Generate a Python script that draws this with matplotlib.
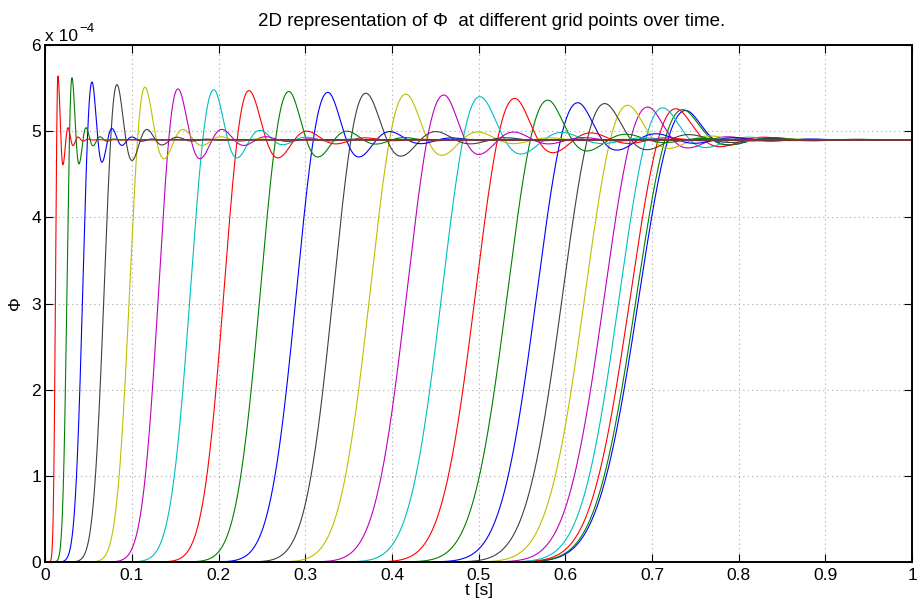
import numpy as np
import matplotlib
matplotlib.use("Agg")
import matplotlib.pyplot as plt

# ---- data (times in s, values in units of 1e-4) ----
peak_t = [0.0146, 0.0308, 0.0539, 0.0827, 0.1150, 0.1531, 0.1946, 0.2350,
          0.2811, 0.3261, 0.3700, 0.4161, 0.4600, 0.5015, 0.5418, 0.5799,
          0.6145, 0.6456, 0.6721, 0.6952, 0.7125, 0.7275, 0.7356, 0.7390]
half_t = [0.0112, 0.0239, 0.0412, 0.0651, 0.0939, 0.1265, 0.1623, 0.2007,
          0.2419, 0.2830, 0.3253, 0.3670, 0.4091, 0.4495, 0.4879, 0.5245,
          0.5582, 0.5879, 0.6136, 0.6360, 0.6533, 0.6655, 0.6724, 0.6752]
trough_t = [0.0204, 0.0389, 0.0654, 0.1000, 0.1369, 0.1784, 0.2211, 0.2684,
            0.3145, 0.3618, 0.4102, 0.4575, 0.5002, 0.5487, 0.5856, 0.6248,
            0.6594, 0.6940, 0.7193, 0.7413, 0.7620, 0.7782, 0.7874, 0.7886]
peak_v = [5.64, 5.62, 5.57, 5.54, 5.51, 5.49, 5.48, 5.47, 5.46, 5.45, 5.44,
          5.43, 5.42, 5.40, 5.38, 5.36, 5.33, 5.32, 5.30, 5.28, 5.27, 5.26,
          5.25, 5.24]
trough_v = [4.61, 4.62, 4.64, 4.66, 4.68, 4.68, 4.69, 4.69, 4.70, 4.70, 4.71,
            4.72, 4.73, 4.735, 4.75, 4.77, 4.78, 4.785, 4.80, 4.805, 4.81,
            4.82, 4.84, 4.84]
second_peak_v = [5.04, 5.04, 5.03, 5.02, 5.02, 5.02, 5.01, 5.00, 5.00, 4.995,
                 4.995, 4.99, 4.99, 4.985, 4.98, 4.965, 4.97, 4.96, 4.945,
                 4.935, 4.93, 4.93, 4.925, 4.92]
steady_v = 4.90
half_level = 2.45
scale = 1e-4

x_ticks = [0, 0.1, 0.2, 0.3, 0.4, 0.5, 0.6, 0.7, 0.8, 0.9, 1]
x_ticklabels = ["0", "0.1", "0.2", "0.3", "0.4", "0.5", "0.6", "0.7", "0.8", "0.9", "1"]
y_ticks = [0, 1, 2, 3, 4, 5, 6]
y_ticklabels = ["0", "1", "2", "3", "4", "5", "6"]

# MATLAB classic colour order (curves plotted from last to first)
color_order = [(0, 0, 1), (0, 0.5, 0), (1, 0, 0), (0, 0.75, 0.75),
               (0.75, 0, 0.75), (0.75, 0.75, 0), (0.25, 0.25, 0.25)]

rise_exp = 2.15

t = np.linspace(0, 1, 6001)


def curve(tp, th, tt, P, T, P2, S):
    y = np.empty_like(t)
    sig = (tp - th) / np.log(P / half_level) ** (1.0 / rise_exp)
    before = t < tp
    y[before] = P * np.exp(-(np.abs(t[before] - tp) / sig) ** rise_exp)
    tau = t[~before] - tp
    half = tt - tp
    w = np.pi / half
    a1 = -np.log((S - T) / (P - S)) / half
    a2 = -np.log((P2 - S) / (S - T)) / half
    a = np.where(tau < half, a1, a2)
    logE = np.where(tau < half, -a1 * tau, -a1 * half - a2 * (tau - half))
    y[~before] = S + (P - S) * np.exp(logE) * (np.cos(w * tau) + (a / w) * np.sin(w * tau))
    return y * scale


plt.rcParams['font.family'] = ['Liberation Sans', 'DejaVu Sans']

fig = plt.figure(figsize=(9.17, 6.05), dpi=100)
ax = fig.add_axes([45.3 / 917, (605 - 562) / 605, (912 - 45.3) / 917, (562 - 45) / 605])

n = len(peak_t)
for k, i in enumerate(range(n - 1, -1, -1)):
    y = curve(peak_t[i], half_t[i], trough_t[i], peak_v[i], trough_v[i],
              second_peak_v[i], steady_v)
    ax.plot(t, y / scale, color=color_order[k % 7], lw=0.8, solid_capstyle='butt')

ax.set_xlim(0, 1)
ax.set_ylim(0, 6)
ax.set_xticks(x_ticks)
ax.set_xticklabels(x_ticklabels)
ax.set_yticks(y_ticks)
ax.set_yticklabels(y_ticklabels)
ax.tick_params(direction='in', length=6, width=0.8, top=True, right=True,
               labelsize=12.5, pad=4)
ax.tick_params(axis='y', pad=3)
ax.grid(True, linestyle=(0, (1, 3)), color='#a8a8a8', lw=0.8)
for s in ax.spines.values():
    s.set_linewidth(1.4)

ax.set_xlabel('t [s]', fontsize=12.5, labelpad=0)
ax.set_ylabel('Φ', fontsize=12.5, labelpad=6)

fig.text(492 / 917, 1 - 26 / 605, '2D representation of Φ  at different grid points over time.',
         ha='center', va='baseline', fontsize=13.5)
fig.text(45 / 917, 1 - 41 / 605, 'x 10', ha='left', va='baseline', fontsize=12.5)
fig.text(79 / 917, 1 - 32 / 605, '\u22124', ha='left', va='baseline', fontsize=9.5)

fig.savefig('out.png', dpi=100)
